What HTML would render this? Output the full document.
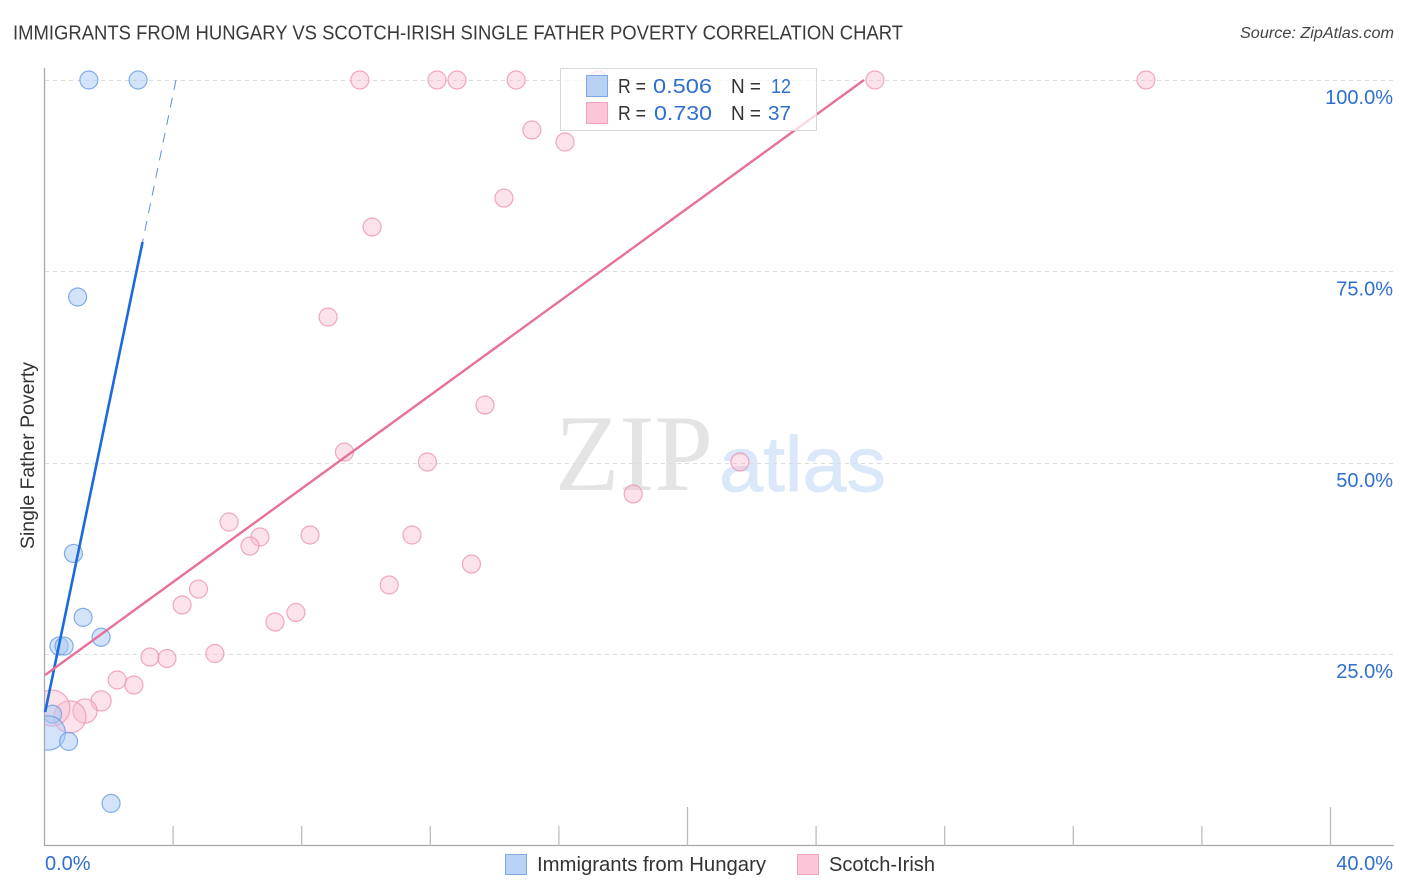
<!DOCTYPE html>
<html lang="en">
<head>
<meta charset="utf-8">
<title>Immigrants from Hungary vs Scotch-Irish Single Father Poverty Correlation Chart</title>
<style>
html,body{margin:0;padding:0;background:#fff;width:1406px;height:892px;overflow:hidden}
svg{display:block;font-family:"Liberation Sans",sans-serif}
</style>
</head>
<body>
<svg id="chart" width="1406" height="892" viewBox="0 0 1406 892" xmlns="http://www.w3.org/2000/svg">
  <defs><clipPath id="plot-clip"><rect x="45" y="60" width="1350" height="786"/></clipPath></defs>
  <rect width="1406" height="892" fill="#fff"/>
  <text x="13" y="39.5" font-size="20" fill="#3a3a3a" textLength="890" lengthAdjust="spacingAndGlyphs">IMMIGRANTS FROM HUNGARY VS SCOTCH-IRISH SINGLE FATHER POVERTY CORRELATION CHART</text>
  <text x="1394" y="38" font-size="15.5" font-style="italic" fill="#444" text-anchor="end" textLength="154" lengthAdjust="spacingAndGlyphs">Source: ZipAtlas.com</text>
  <text x="555" y="490" font-family="'Liberation Serif',serif" font-size="109" fill="#e4e4e4" textLength="158" lengthAdjust="spacingAndGlyphs">ZIP</text>
  <text x="719" y="491" font-size="78" fill="#dbe8f9" stroke="#dbe8f9" stroke-width="0.8" textLength="167" lengthAdjust="spacingAndGlyphs">atlas</text>
  <g id="grid"></g>
  <g id="axes"></g>
  <g id="points" clip-path="url(#plot-clip)"></g>
  <g id="trends"></g>
  <text transform="translate(34,549) rotate(-90)" font-size="19.5" fill="#333" textLength="187" lengthAdjust="spacingAndGlyphs">Single Father Poverty</text>

  <g>
    <rect x="560.5" y="68.5" width="256" height="62" fill="#fff" fill-opacity="0.72" stroke="#d8d8d8"/>
    <rect x="586.5" y="75.5" width="21" height="21" fill="#b0ccf4" fill-opacity="0.9" stroke="#7fa8e4"/>
    <rect x="586.5" y="102.5" width="21" height="21" fill="#fcc5d8" stroke="#f0a3bf"/>
    <g font-size="20.5">
      <text x="618" y="93" fill="#333" textLength="28" lengthAdjust="spacingAndGlyphs">R =</text>
      <text x="653" y="93" fill="#2f6fd0" textLength="59" lengthAdjust="spacingAndGlyphs">0.506</text>
      <text x="731" y="93" fill="#333" textLength="30" lengthAdjust="spacingAndGlyphs">N =</text>
      <text x="771" y="93" fill="#2f6fd0" textLength="20" lengthAdjust="spacingAndGlyphs">12</text>
      <text x="618" y="120" fill="#333" textLength="28" lengthAdjust="spacingAndGlyphs">R =</text>
      <text x="654" y="120" fill="#2f6fd0" textLength="58" lengthAdjust="spacingAndGlyphs">0.730</text>
      <text x="731" y="120" fill="#333" textLength="30" lengthAdjust="spacingAndGlyphs">N =</text>
      <text x="768" y="120" fill="#2f6fd0" textLength="23" lengthAdjust="spacingAndGlyphs">37</text>
    </g>
  </g>

  <g>
    <rect x="505.5" y="854.5" width="21" height="20" fill="#b8d3f7" stroke="#7fa8e4"/>
    <text x="537" y="871" font-size="20" fill="#333" textLength="229" lengthAdjust="spacingAndGlyphs">Immigrants from Hungary</text>
    <rect x="797.5" y="854.5" width="21" height="20" fill="#fcc5d8" stroke="#f0a3bf"/>
    <text x="829" y="871" font-size="20" fill="#333" textLength="106" lengthAdjust="spacingAndGlyphs">Scotch-Irish</text>
  </g>
</svg>
<script>
const xTickValues = [0, 4, 8, 12, 16, 20, 24, 28, 32, 36, 40];
const xMajorTicks = [20, 40];
const xEndLabels = [0, 40];
const yTickValues = [25, 50, 75, 100];

const hungaryX = [1.38, 2.91, 1.03, 0.90, 1.20, 1.76, 0.45, 0.61, 0.25, 0.12, 0.75, 2.07];
const hungaryY = [100, 100, 71.65, 38.15, 29.8, 27.2, 26.05, 26.05, 17.15, 14.7, 13.6, 5.5];
const hungaryWeight = [1, 1, 1, 1, 1, 1, 1, 1, 1, 3.6, 1, 1];

const scotchX = [9.81, 12.21, 12.83, 14.67, 17.22, 25.83, 34.26, 15.16, 16.19, 14.29, 10.19, 8.82, 13.70, 9.33, 11.91, 21.63, 18.31, 5.74, 8.26, 11.43, 6.70, 6.39, 13.28, 10.72, 4.79, 4.28, 7.82, 7.17, 5.30, 3.28, 3.81, 2.26, 2.78, 1.76, 1.26, 0.79, 0.23];
const scotchY = [100, 100, 100, 100, 100, 100, 100, 93.47, 91.9, 84.58, 80.8, 69.04, 57.54, 51.4, 50.1, 50.1, 45.92, 42.26, 40.56, 40.56, 40.3, 39.12, 36.77, 34.03, 33.5, 31.42, 30.44, 29.2, 25.08, 24.62, 24.43, 21.62, 20.97, 18.88, 17.57, 16.79, 17.96];
const scotchWeight = [1, 1, 1, 1, 1, 1, 1, 1, 1, 1, 1, 1, 1, 1, 1, 1, 1, 1, 1, 1, 1, 1, 1, 1, 1, 1, 1, 1, 1, 1, 1, 1, 1, 1.25, 1.8, 3.2, 4];

const hungaryTrendX = [0.02, 3.05];
const hungaryTrendY = [17.44, 78.84];
const hungaryDashX = [4.09, 3.05];
const hungaryDashY = [100, 78.84];
const scotchTrendX = [0.02, 25.49];
const scotchTrendY = [22.27, 100];

const NS = 'http://www.w3.org/2000/svg';
function xAxis(v) { return 44.5 + v * 32.15; }
function yAxis(v) { return 845.5 - v * 7.655; }
function radius(w) { return 9 * Math.sqrt(w); }
function make(tag, parent) {
  const el = document.createElementNS(NS, tag);
  parent.appendChild(el);
  return el;
}
function drawLine(el, x1, y1, x2, y2, stroke, width, dash) {
  el.setAttribute('x1', x1);
  el.setAttribute('y1', y1);
  el.setAttribute('x2', x2);
  el.setAttribute('y2', y2);
  el.setAttribute('stroke', stroke);
  el.setAttribute('stroke-width', width);
  if (dash) el.setAttribute('stroke-dasharray', dash);
}

const gridGroup = document.getElementById('grid');
const axesGroup = document.getElementById('axes');
const pointsGroup = document.getElementById('points');
const trendsGroup = document.getElementById('trends');

yTickValues.forEach(function (v) {
  const line = make('line', gridGroup);
  
  
  const py = Math.round(yAxis(v)) + 0.5;
  drawLine(line, 45, py, 1393, py, '#dcdcdc', 1, '4 4');
  const label = make('text', axesGroup);
  
  
  label.setAttribute('x', 1393);
  label.setAttribute('y', yAxis(v) + 24);
  label.setAttribute('font-size', 20);
  label.setAttribute('fill', '#2f6fd0');
  label.setAttribute('text-anchor', 'end');
  label.textContent = v.toFixed(1) + '%';
});

const yAxisLine = make('line', axesGroup);


drawLine(yAxisLine, 44.5, 68, 44.5, 846, '#a8a8a8', 1.3);

const xAxisLine = make('line', axesGroup);


drawLine(xAxisLine, 44, 845.5, 1394, 845.5, '#a8a8a8', 1.3);

xTickValues.slice(1).forEach(function (v) {
  const tick = make('line', axesGroup);
  
  
  const px = xAxis(v);
  const top = xMajorTicks.indexOf(v) >= 0 ? 807 : 826;
  drawLine(tick, px, top, px, 845.5, '#bdbdbd', 1.3);
});

xEndLabels.forEach(function (v, i) {
  const label = make('text', axesGroup);
  
  
  label.setAttribute('x', i === 0 ? xAxis(v) + 0.5 : 1393);
  label.setAttribute('y', 870);
  label.setAttribute('font-size', 20);
  label.setAttribute('fill', '#2f6fd0');
  label.setAttribute('text-anchor', i === 0 ? 'start' : 'end');
  label.textContent = v.toFixed(1) + '%';
});

scotchX.forEach(function (v, i) {
  const dot = make('circle', pointsGroup);
  
  
  dot.setAttribute('cx', xAxis(v));
  dot.setAttribute('cy', yAxis(scotchY[i]));
  dot.setAttribute('r', radius(scotchWeight[i]));
  dot.setAttribute('fill', '#f9b9cf');
  dot.setAttribute('fill-opacity', 0.42);
  dot.setAttribute('stroke', '#ec93b3');
  dot.setAttribute('stroke-opacity', 0.8);
  dot.setAttribute('stroke-width', 1.2);
});

hungaryX.forEach(function (v, i) {
  const dot = make('circle', pointsGroup);
  
  
  dot.setAttribute('cx', xAxis(v));
  dot.setAttribute('cy', yAxis(hungaryY[i]));
  dot.setAttribute('r', radius(hungaryWeight[i]));
  dot.setAttribute('fill', '#a8c8f4');
  dot.setAttribute('fill-opacity', 0.5);
  dot.setAttribute('stroke', '#6f9fe6');
  dot.setAttribute('stroke-opacity', 0.85);
  dot.setAttribute('stroke-width', 1.2);
});

const hungaryDash = make('line', trendsGroup);


drawLine(hungaryDash, xAxis(hungaryDashX[0]), yAxis(hungaryDashY[0]), xAxis(hungaryDashX[1]), yAxis(hungaryDashY[1]), '#5a90e0', 1, '10 8');

const hungaryTrend = make('line', trendsGroup);


drawLine(hungaryTrend, xAxis(hungaryTrendX[0]), yAxis(hungaryTrendY[0]), xAxis(hungaryTrendX[1]), yAxis(hungaryTrendY[1]), '#1c6bdc', 2.6);

const scotchTrend = make('line', trendsGroup);


drawLine(scotchTrend, xAxis(scotchTrendX[0]), yAxis(scotchTrendY[0]), xAxis(scotchTrendX[1]), yAxis(scotchTrendY[1]), '#e8709c', 2.4);
</script>
</body>
</html>
